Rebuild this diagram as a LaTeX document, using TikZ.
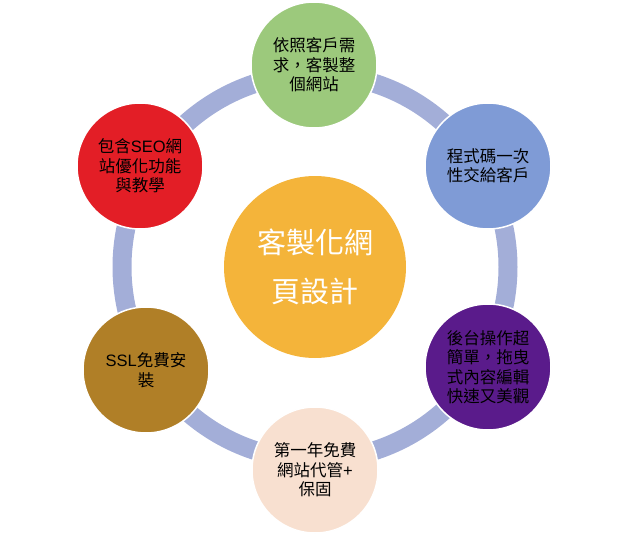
\documentclass[tikz,border=0pt]{standalone}
\usepackage{fontspec}
\setmainfont{Noto Sans CJK TC}
\newfontfamily\latinfont{Liberation Sans}
\usetikzlibrary{positioning}
\definecolor{ringblue}{HTML}{A3AED8}
\definecolor{leafgreen}{HTML}{9CC97C}
\definecolor{skyblue}{HTML}{7F9BD6}
\definecolor{deeppurple}{HTML}{5A1B8B}
\definecolor{peach}{HTML}{F8E0D0}
\definecolor{ochre}{HTML}{B07F27}
\definecolor{brightred}{HTML}{E31E26}
\definecolor{amber}{HTML}{F4B43A}

\begin{document}
\begin{tikzpicture}[x=1pt,y=-1pt,
    ring/.style={draw=ringblue,line width=19pt},
    petal/.style={circle,draw=white,line width=1.5pt,minimum size=126pt,inner sep=0pt,
        align=center,font=\fontsize{16.5}{19.5}\selectfont},
    hubnode/.style={circle,fill=amber,minimum size=182pt,inner sep=0pt,
        align=center,text=white,font=\fontsize{29}{49}\selectfont}]
    \useasboundingbox (0,0) rectangle (635,538);
    \coordinate (C) at (315,267);
    \draw[ring] (C) circle (193pt);
    \node[petal,fill=leafgreen] (need) at (314,65) {依照客戶需\\求，客製整\\個網站};
    \node[petal,fill=skyblue] (code) at (488,166) {程式碼一次\\性交給客戶};
    \node[petal,fill=deeppurple] (admin) at (488,367) {後台操作超\\簡單，拖曳\\式內容編輯\\快速又美觀};
    \node[petal,fill=peach] (host) at (315,470) {第一年免費\\網站代管{\latinfont+}\\保固};
    \node[petal,fill=ochre] (ssl) at (146,370) {{\latinfont SSL}免費安\\裝};
    \node[petal,fill=brightred] (seo) at (140,166) {包含{\latinfont SEO}網\\站優化功能\\與教學};
    \node[hubnode] (hub) at (C) {客製化網\\頁設計};
\end{tikzpicture}
\end{document}
